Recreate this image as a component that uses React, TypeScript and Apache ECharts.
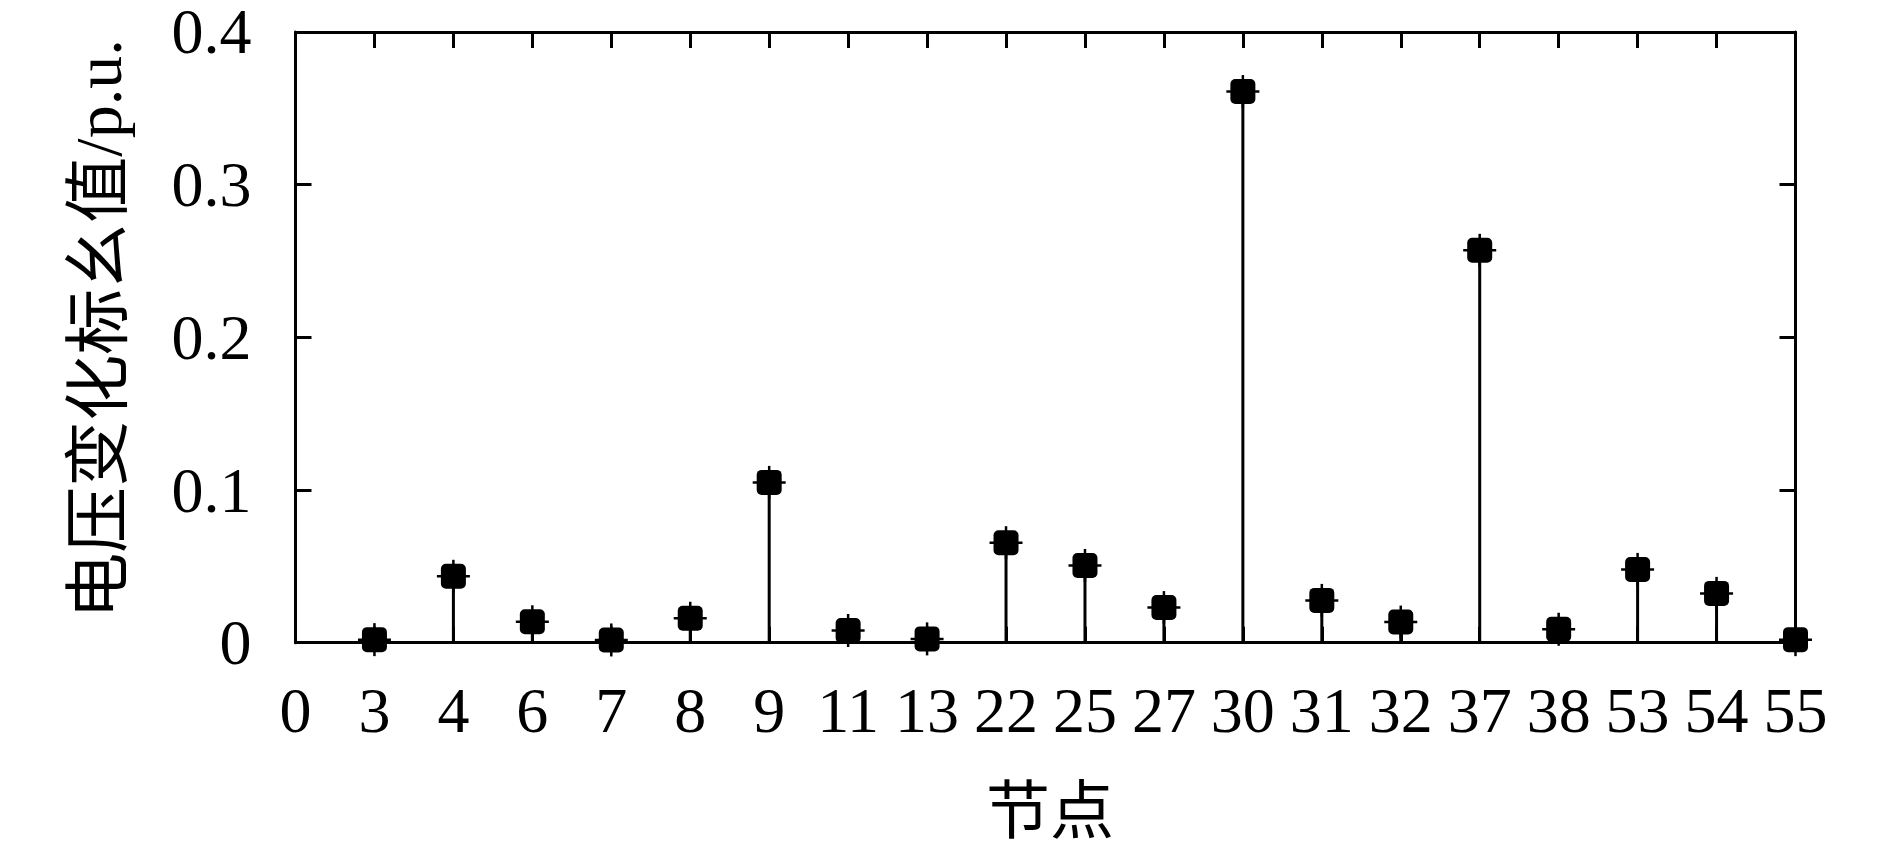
import React, { useEffect, useRef } from "react";
import * as echarts from "echarts";

const nodeLabels = ["0", "3", "4", "6", "7", "8", "9", "11", "13", "22", "25", "27", "30", "31", "32", "37", "38", "53", "54", "55"];
const nodeIndex = [1, 2, 3, 4, 5, 6, 7, 8, 9, 10, 11, 12, 13, 14, 15, 16, 17, 18, 19];
const voltageChange = [0.002, 0.0435, 0.0137, 0.0018, 0.016, 0.105, 0.008, 0.0025, 0.0655, 0.0506, 0.023, 0.361, 0.0277, 0.0135, 0.257, 0.0088, 0.048, 0.0323, 0.002];
const yTicks = [0, 0.1, 0.2, 0.3, 0.4];

const FONT = "'Liberation Serif', 'Times New Roman', 'Noto Sans CJK SC', serif";

export default function App() {
  const ref = useRef<HTMLDivElement>(null);
  useEffect(() => {
    if (!ref.current) return;
    const chart = echarts.init(ref.current, null, { renderer: "svg" });
    const data = nodeIndex.map((x, i) => [x, voltageChange[i]]);
    const lineStyle = { color: "#000", width: 3 };
    const tick = { show: true, inside: true, length: 16, lineStyle };
    const option: any = {
      animation: false,
      backgroundColor: "#fff",
      grid: { left: 295.5, right: 94.5, top: 30.7, bottom: 203.3, containLabel: false },
      xAxis: [
        {
          type: "value", min: 0, max: 19, interval: 1, position: "bottom",
          axisLine: { show: true, onZero: false, lineStyle },
          axisTick: tick,
          splitLine: { show: false },
          axisLabel: {
            show: true, margin: 36, color: "#000", fontSize: 64, fontFamily: FONT,
            formatter: (v: number) => nodeLabels[Math.round(v)] ?? "",
          },
        },
        {
          type: "value", min: 0, max: 19, interval: 1, position: "top",
          axisLine: { show: true, onZero: false, lineStyle },
          axisTick: tick,
          splitLine: { show: false },
          axisLabel: { show: false },
        },
      ],
      yAxis: [
        {
          type: "value", min: 0, max: 0.4, interval: 0.1, position: "left",
          axisLine: { show: true, onZero: false, lineStyle },
          axisTick: tick,
          splitLine: { show: false },
          axisLabel: {
            show: true, margin: 44, color: "#000", fontSize: 64, lineHeight: 56, fontFamily: FONT,
            formatter: (v: number) => {
              const t = yTicks.find((y) => Math.abs(y - v) < 1e-9);
              return t === 0 ? "0" : (t ?? v).toFixed(1);
            },
          },
        },
        {
          type: "value", min: 0, max: 0.4, interval: 0.1, position: "right",
          axisLine: { show: true, onZero: false, lineStyle },
          axisTick: tick,
          splitLine: { show: false },
          axisLabel: { show: false },
        },
      ],
      series: [
        {
          type: "custom",
          xAxisIndex: 0,
          yAxisIndex: 0,
          clip: false,
          data,
          renderItem: (params: any, api: any) => {
            const x = api.value(0);
            const y = api.value(1);
            const top = api.coord([x, y]);
            const base = api.coord([x, 0]);
            const h = 12.5;
            const arm = 16.5;
            return {
              type: "group",
              children: [
                { type: "line", shape: { x1: base[0], y1: base[1], x2: top[0], y2: top[1] }, style: { stroke: "#000", lineWidth: 3 } },
                { type: "rect", shape: { x: top[0] - h, y: top[1] - h, width: 2 * h, height: 2 * h, r: 5 }, style: { fill: "#000" } },
                { type: "line", shape: { x1: top[0] - arm, y1: top[1], x2: top[0] + arm, y2: top[1] }, style: { stroke: "#000", lineWidth: 2.5 } },
                { type: "line", shape: { x1: top[0], y1: top[1] - arm, x2: top[0], y2: top[1] + arm }, style: { stroke: "#000", lineWidth: 2.5 } },
              ],
            };
          },
        },
      ],
      graphic: [
        {
          type: "text", x: 98, y: 329, rotation: Math.PI / 2,
          style: { text: "电压变化标幺值/p.u.", fill: "#000", font: `66px ${FONT}`, align: "center", verticalAlign: "middle" },
        },
        {
          type: "text", x: 1050, y: 811,
          style: { text: "节点", fill: "#000", font: `64px ${FONT}`, align: "center", verticalAlign: "middle" },
        },
      ],
    };
    chart.setOption(option);
    return () => chart.dispose();
  }, []);
  return <div ref={ref} style={{ position: "fixed", left: 0, top: 0, width: 1890, height: 846, background: "#fff" }} />;
}
